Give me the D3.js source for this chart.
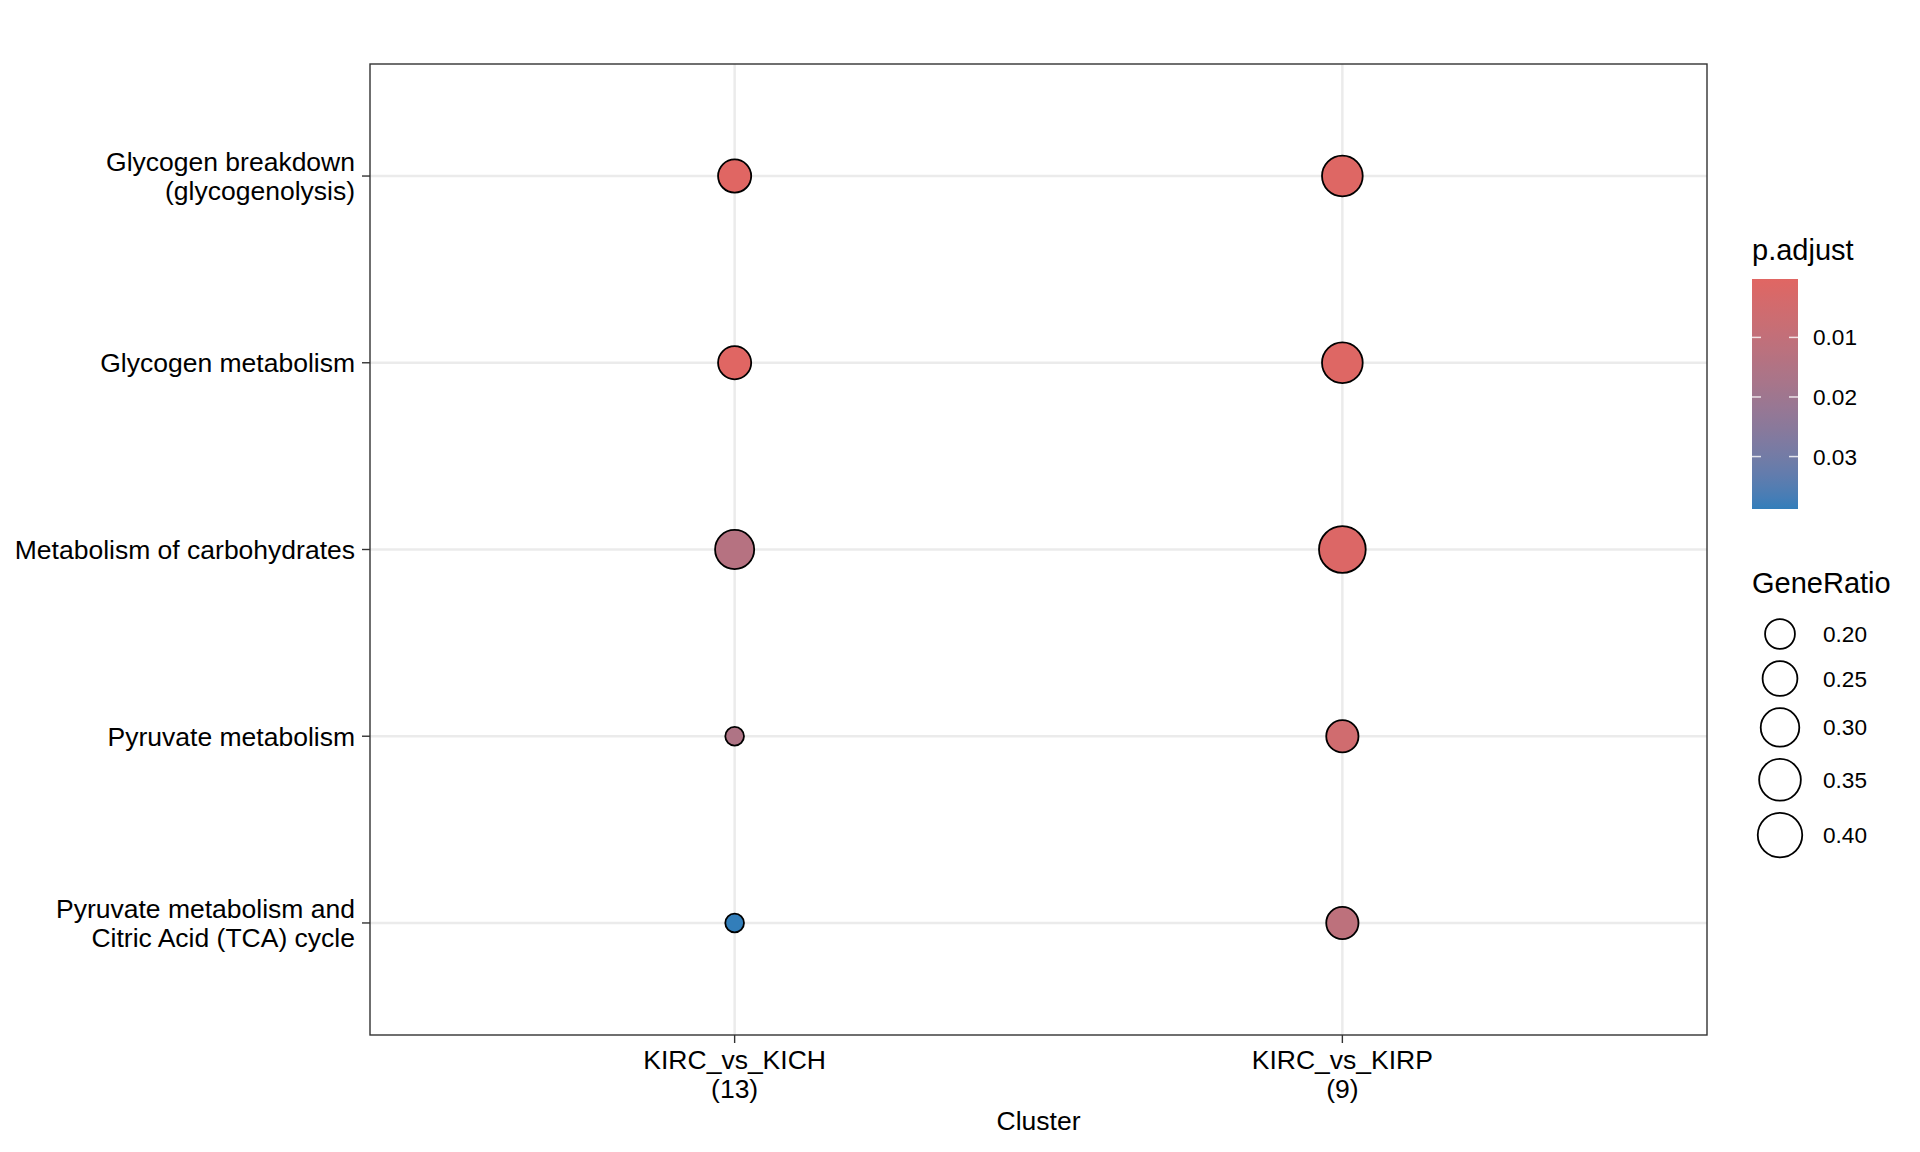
<!DOCTYPE html>
<html>
<head>
<meta charset="utf-8">
<script src="https://cdn.jsdelivr.net/npm/d3@7"></script>
<style>
  body { margin: 0; background: #fff; }
  text { font-family: "Liberation Sans", Arial, Helvetica, sans-serif; fill: #000; }
</style>
</head>
<body>
<script>
// enrichment dotplot, pathways vs cluster

let pathways = [
  "Glycogen breakdown\n(glycogenolysis)",
  "Glycogen metabolism",
  "Metabolism of carbohydrates",
  "Pyruvate metabolism",
  "Pyruvate metabolism and\nCitric Acid (TCA) cycle"
]
let clusters = ["KIRC_vs_KICH", "KIRC_vs_KIRP"]
let clusterCounts = [13, 9]

// GeneRatio per pathway (same order as pathways)
let ratioKICH = [0.231, 0.231, 0.308, 0.154, 0.154]
let ratioKIRP = [0.333, 0.333, 0.444, 0.222, 0.222]

// p.adjust per pathway
let padjKICH = [0.0002, 0.0002, 0.0135, 0.0155, 0.0388]
let padjKIRP = [0.0008, 0.0008, 0.0015, 0.0055, 0.0115]

let sizeBreaks = [0.20, 0.25, 0.30, 0.35, 0.40]
let colorBreaks = [0.01, 0.02, 0.03]

let width = 1920, height = 1152
let panel = { left: 370, right: 1707, top: 64, bottom: 1035 }

let svg = d3.select("body")
  .append("svg")
  .attr("width", width)
  .attr("height", height)

let points = []
pathways.forEach((p, i) => {
  points.push({ pathway: p, cluster: clusters[0], ratio: ratioKICH[i], padj: padjKICH[i] })
  points.push({ pathway: p, cluster: clusters[1], ratio: ratioKIRP[i], padj: padjKIRP[i] })
})

let xScale = d3.scalePoint().domain(clusters).range([panel.left, panel.right]).padding(0.6)
let yScale = d3.scalePoint().domain(pathways).range([panel.top, panel.bottom]).padding(0.6)

let pExtent = d3.extent(points, d => d.padj)
let colorScale = d3.scaleLinear().domain(pExtent)
  .range(["#e06663", "#327eba"]).interpolate(d3.interpolateLab)

let rExtent = d3.extent(points, d => d.ratio)
let ratioT = d3.scaleLinear().domain(rExtent).range([0, 1])
let diam = d3.scaleSqrt().domain([0, 1]).range([20.5, 48.5])
let radius = v => diam(ratioT(v)) / 2 - 0.9

// grid
let grid = svg.append("g")
grid.selectAll("line.h").data(pathways).join("line")
  .attr("x1", panel.left).attr("x2", panel.right)
  .attr("y1", d => yScale(d)).attr("y2", d => yScale(d))
  .attr("stroke", "#EBEBEB").attr("stroke-width", 2.5)
grid.selectAll("line.v").data(clusters).join("line")
  .attr("class", "v")
  .attr("y1", panel.top).attr("y2", panel.bottom)
  .attr("x1", d => xScale(d)).attr("x2", d => xScale(d))
  .attr("stroke", "#EBEBEB").attr("stroke-width", 2.5)

// dots
svg.append("g").selectAll("circle").data(points).join("circle")
  .attr("cx", d => xScale(d.cluster))
  .attr("cy", d => yScale(d.pathway))
  .attr("r", d => radius(d.ratio))
  .attr("fill", d => colorScale(d.padj))
  .attr("stroke", "#000")
  .attr("stroke-width", 1.8)

// panel border
svg.append("rect")
  .attr("x", panel.left).attr("y", panel.top)
  .attr("width", panel.right - panel.left).attr("height", panel.bottom - panel.top)
  .attr("fill", "none").attr("stroke", "#333333").attr("stroke-width", 1.4)

// y axis
let yAxis = svg.append("g")
yAxis.selectAll("line").data(pathways).join("line")
  .attr("x1", panel.left - 8).attr("x2", panel.left)
  .attr("y1", d => yScale(d)).attr("y2", d => yScale(d))
  .attr("stroke", "#333333").attr("stroke-width", 1.4)
yAxis.selectAll("text").data(pathways).join("text")
  .attr("text-anchor", "end")
  .attr("font-size", 26.5)
  .each(function(d) {
    let lines = d.split("\n")
    let y0 = yScale(d) + 9.5 - (lines.length - 1) * 29 / 2
    d3.select(this).selectAll("tspan").data(lines).join("tspan")
      .attr("x", panel.left - 15)
      .attr("y", (l, i) => y0 + i * 29)
      .text(l => l)
  })

// x axis
let xAxis = svg.append("g")
xAxis.selectAll("line").data(clusters).join("line")
  .attr("x1", d => xScale(d)).attr("x2", d => xScale(d))
  .attr("y1", panel.bottom).attr("y2", panel.bottom + 8)
  .attr("stroke", "#333333").attr("stroke-width", 1.4)
xAxis.selectAll("text").data(clusters).join("text")
  .attr("text-anchor", "middle")
  .attr("font-size", 26.5)
  .each(function(d, i) {
    let lines = [d, "(" + clusterCounts[i] + ")"]
    d3.select(this).selectAll("tspan").data(lines).join("tspan")
      .attr("x", xScale(d))
      .attr("y", (l, j) => 1069 + j * 29)
      .text(l => l)
  })
svg.append("text")
  .attr("x", (panel.left + panel.right) / 2).attr("y", 1130)
  .attr("text-anchor", "middle").attr("font-size", 26.5)
  .text("Cluster")

// colour legend
let lx = 1752
svg.append("text").attr("x", lx).attr("y", 260).attr("font-size", 29).text("p.adjust")
let barTop = 279, barBottom = 509, barW = 46
let barY = d3.scaleLinear().domain(pExtent).range([barTop, barBottom])
let grad = svg.append("defs").append("linearGradient")
  .attr("id", "padjGrad").attr("x1", 0).attr("x2", 0).attr("y1", 0).attr("y2", 1)
grad.selectAll("stop").data(d3.range(0, 1.0001, 0.05)).join("stop")
  .attr("offset", d => d)
  .attr("stop-color", d => colorScale(pExtent[0] + d * (pExtent[1] - pExtent[0])))
svg.append("rect")
  .attr("x", lx).attr("y", barTop).attr("width", barW).attr("height", barBottom - barTop)
  .attr("fill", "url(#padjGrad)")
let cb = svg.append("g")
cb.selectAll("line.l").data(colorBreaks).join("line")
  .attr("class", "l")
  .attr("x1", lx).attr("x2", lx + 9)
  .attr("y1", d => barY(d)).attr("y2", d => barY(d))
  .attr("stroke", "#fff").attr("stroke-opacity", 0.8).attr("stroke-width", 1.5)
cb.selectAll("line.r").data(colorBreaks).join("line")
  .attr("class", "r")
  .attr("x1", lx + barW - 9).attr("x2", lx + barW)
  .attr("y1", d => barY(d)).attr("y2", d => barY(d))
  .attr("stroke", "#fff").attr("stroke-opacity", 0.8).attr("stroke-width", 1.5)
cb.selectAll("text").data(colorBreaks).join("text")
  .attr("x", lx + barW + 15)
  .attr("y", d => barY(d) + 8)
  .attr("font-size", 22.6)
  .text(d => d.toFixed(2))

// size legend
svg.append("text").attr("x", lx).attr("y", 593).attr("font-size", 29).text("GeneRatio")
let keyY = []
let cur = 634
sizeBreaks.forEach((b, i) => {
  if (i > 0) cur += (diam(ratioT(sizeBreaks[i - 1])) + diam(ratioT(b))) / 2 + 10.4
  keyY.push(cur)
})
let sl = svg.append("g")
sl.selectAll("circle").data(sizeBreaks).join("circle")
  .attr("cx", 1780)
  .attr("cy", (d, i) => keyY[i])
  .attr("r", d => radius(d))
  .attr("fill", "none").attr("stroke", "#000").attr("stroke-width", 1.8)
sl.selectAll("text").data(sizeBreaks).join("text")
  .attr("x", 1823)
  .attr("y", (d, i) => keyY[i] + 8)
  .attr("font-size", 22.6)
  .text(d => d.toFixed(2))
</script>
</body>
</html>
